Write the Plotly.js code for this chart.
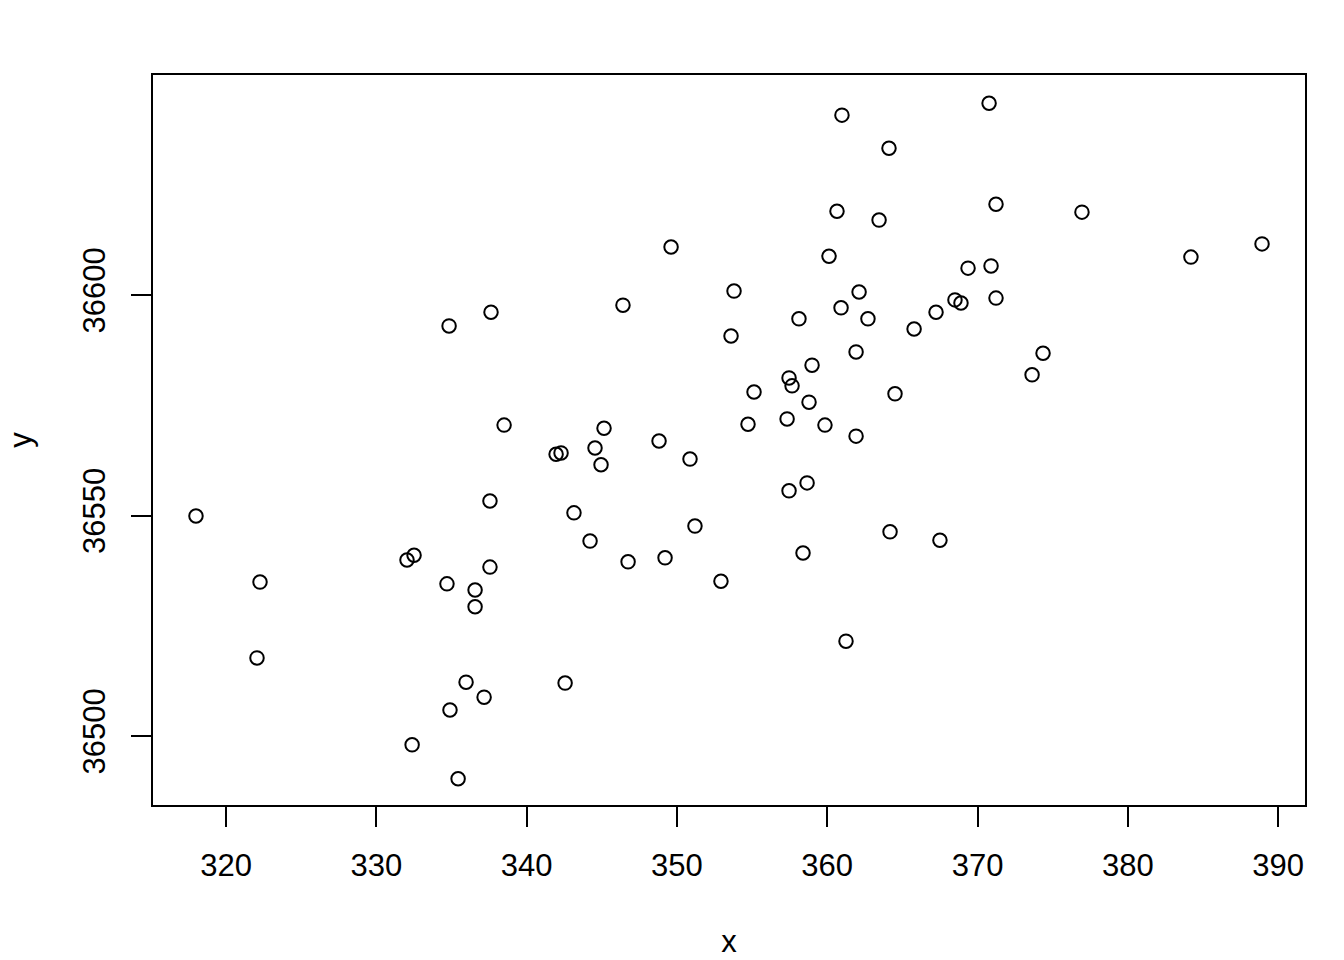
<!DOCTYPE html>
<html>
<head>
<meta charset="utf-8">
<script src="https://cdn.plot.ly/plotly-3.0.1.min.js"></script>
<style>html,body{margin:0;padding:0;background:#fff;}#chart{width:1344px;height:960px;}</style>
</head>
<body>
<div id="chart"></div>
<script>
const xValues = [318.0, 322.26, 322.06, 332.04, 332.51, 332.38, 334.84, 334.70, 334.90, 335.44,
  335.97, 336.57, 336.57, 337.17, 337.56, 337.56, 337.63, 338.50, 341.96, 342.29,
  342.56, 343.15, 344.22, 344.55, 344.95, 345.15, 346.41, 346.75, 348.81, 349.21,
  349.61, 350.87, 351.20, 352.93, 353.60, 353.80, 354.73, 355.13, 357.33, 357.46,
  357.66, 357.46, 358.12, 358.39, 358.66, 358.79, 358.99, 359.85, 360.12, 360.65,
  360.92, 360.98, 361.25, 361.92, 361.92, 362.12, 362.71, 363.45, 364.11, 364.18,
  364.51, 365.78, 367.24, 367.50, 368.50, 368.90, 369.37, 370.77, 370.90, 371.23,
  371.23, 373.63, 374.36, 376.95, 384.20, 388.93];
const yValues = [36549.9, 36534.9, 36517.7, 36539.9, 36541.0, 36498.0, 36593.0, 36534.5, 36505.9, 36490.3,
  36512.2, 36533.1, 36529.3, 36508.8, 36538.3, 36553.3, 36596.1, 36570.5, 36563.9, 36564.2,
  36512.0, 36550.6, 36544.2, 36565.3, 36561.5, 36569.8, 36597.7, 36539.5, 36566.9, 36540.4,
  36610.9, 36562.8, 36547.6, 36535.1, 36590.7, 36600.9, 36570.7, 36578.0, 36571.9, 36581.2,
  36579.4, 36555.6, 36594.6, 36541.5, 36557.4, 36575.7, 36584.1, 36570.5, 36608.8, 36619.0,
  36597.1, 36640.8, 36521.5, 36587.1, 36568.0, 36600.7, 36594.6, 36617.0, 36633.3, 36546.3,
  36577.6, 36592.3, 36596.1, 36544.4, 36598.9, 36598.2, 36606.1, 36643.5, 36606.6, 36620.6,
  36599.3, 36581.9, 36586.8, 36618.8, 36608.6, 36611.6];
const xTicks = [320, 330, 340, 350, 360, 370, 380, 390];
const yTicks = [36500, 36550, 36600];

const font = {family: 'Arial, "Liberation Sans", sans-serif', size: 31, color: '#000'};

Plotly.newPlot('chart', [{
  x: xValues, y: yValues, type: 'scatter', mode: 'markers',
  marker: {symbol: 'circle-open', size: 13.5, color: '#000', line: {width: 2, color: '#000'}},
  hoverinfo: 'none'
}], {
  width: 1344, height: 960,
  margin: {l: 153, r: 39, t: 75, b: 155, pad: 0},
  paper_bgcolor: '#fff', plot_bgcolor: '#fff',
  font: font,
  showlegend: false,
  xaxis: {
    range: [315.14, 391.79], tickvals: xTicks, ticktext: xTicks.map(String),
    ticks: 'outside', ticklen: 20, tickwidth: 2, tickcolor: '#000',
    showline: true, mirror: true, linecolor: '#000', linewidth: 2,
    showgrid: false, zeroline: false, tickfont: font, ticklabelstandoff: 12,
    title: {text: 'x', font: font, standoff: 48}
  },
  yaxis: {
    range: [36484.35, 36649.9], tickvals: yTicks, ticktext: yTicks.map(String),
    ticks: 'outside', ticklen: 20, tickwidth: 2, tickcolor: '#000', tickangle: -90,
    showline: true, mirror: true, linecolor: '#000', linewidth: 2,
    showgrid: false, zeroline: false, tickfont: font, ticklabelstandoff: 14,
    title: {text: 'y', font: font, standoff: 36}
  }
}, {staticPlot: true});
</script>
</body>
</html>
